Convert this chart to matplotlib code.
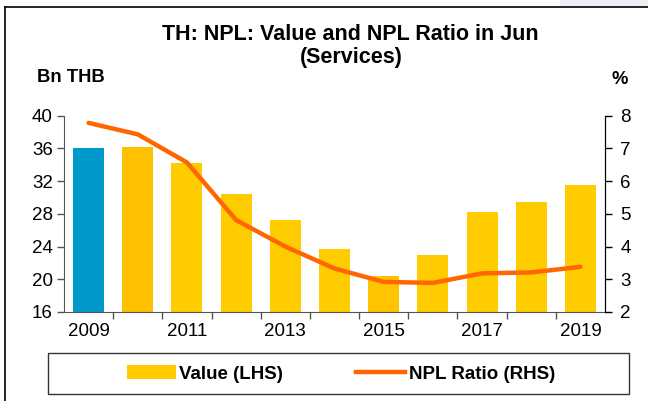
import matplotlib
matplotlib.use("Agg")
import matplotlib.pyplot as plt
from matplotlib.lines import Line2D
from matplotlib.patches import Patch, Rectangle

plt.rcParams['font.family'] = ['Liberation Sans', 'DejaVu Sans']

years = [2009, 2010, 2011, 2012, 2013, 2014, 2015, 2016, 2017, 2018, 2019]
value_bn = [36.0, 36.2, 34.2, 30.4, 27.3, 23.7, 20.4, 23.0, 28.2, 29.5, 31.5]
npl_ratio = [7.78, 7.43, 6.57, 4.81, 4.0, 3.33, 2.92, 2.89, 3.18, 3.21, 3.38]
bar_colors = ['#0099CC', '#FFC000', '#FFCC00', '#FFCC00', '#FFCC00', '#FFCC00',
              '#FFC400', '#FFCC00', '#FFCC00', '#FFCC00', '#FFCC00']
xtick_labels = ['2009', '', '2011', '', '2013', '', '2015', '', '2017', '', '2019']

W, H = 648, 401
fig = plt.figure(figsize=(W / 100, H / 100), dpi=100)

# outer frame lines (left and top)
fig.add_artist(Line2D([5 / W, 5 / W], [0, 1 - 7 / H], color='black', lw=1.2))
fig.add_artist(Line2D([5 / W, 1], [1 - 7 / H, 1 - 7 / H], color='black', lw=1.2))
fig.add_artist(Rectangle((560 / W, 1 - 6.5 / H), 88 / W, 6.5 / H, color='#EEF0F8', lw=0,
                         transform=fig.transFigure))

left, right, bottom, top = 64 / W, 605 / W, 1 - 312 / H, 1 - 115.7 / H
ax = fig.add_axes([left, bottom, right - left, top - bottom])
ax2 = ax.twinx()

x = list(range(len(years)))
ax.bar(x, [v - 16 for v in value_bn], bottom=16, width=0.63, color=bar_colors, zorder=2)
ax.set_ylim(16, 40)
ax.set_xlim(-0.5, len(years) - 0.5)
ax.set_yticks([16, 20, 24, 28, 32, 36, 40])
ax.tick_params(axis='y', direction='out', length=5, width=1, labelsize=13.5, pad=3, color='#555555')

ax.set_xticks(x)
ax.set_xticklabels(xtick_labels)
ax.set_xticks([i + 0.5 for i in range(len(years) - 1)], minor=True)
ax.tick_params(axis='x', which='major', length=0, labelsize=13.5, pad=8)
ax.tick_params(axis='x', which='minor', direction='out', length=5, width=1, color='#555555')

ax2.plot(x, npl_ratio, color='#FF6600', lw=3.2, solid_capstyle='round', zorder=3)
ax2.set_ylim(2, 8)
ax2.set_yticks([2, 3, 4, 5, 6, 7, 8])
ax2.tick_params(axis='y', direction='out', length=5, width=1, labelsize=13.5, pad=6)

for a in (ax, ax2):
    a.spines['top'].set_visible(False)
ax.spines['left'].set_color('#555555')
ax.spines['bottom'].set_color('#555555')
ax2.spines['left'].set_visible(False)
ax2.spines['bottom'].set_visible(False)
ax2.spines['right'].set_color('black')
ax.set_zorder(1)
ax2.set_zorder(2)
ax2.patch.set_visible(False)

fig.text(350 / W, 1 - 35 / H, 'TH: NPL: Value and NPL Ratio in Jun', ha='center', va='center',
         fontsize=15.5, fontweight='bold')
fig.text(351 / W, 1 - 58 / H, '(Services)', ha='center', va='center', fontsize=15.5, fontweight='bold')
fig.text(37 / W, 1 - 77 / H, 'Bn THB', ha='left', va='center', fontsize=13.2, fontweight='bold')
fig.text(611 / W, 1 - 79 / H, '%', ha='left', va='center', fontsize=13.2, fontweight='bold')

# legend frame
fig.add_artist(Rectangle((48 / W, 1 - 394 / H), (629 - 48) / W, (394 - 353) / H,
                         transform=fig.transFigure, facecolor='white', edgecolor='#333333', lw=1))
handles = [Patch(facecolor='#FFCC00', edgecolor='none'),
           Line2D([0], [0], color='#FF6600', lw=3.2)]
leg = fig.legend(handles, ['Value (LHS)', 'NPL Ratio (RHS)'], loc='center',
                 bbox_to_anchor=(341 / W, 1 - 374 / H), ncol=2,
                 prop={'weight': 'bold', 'size': 13.5}, frameon=False,
                 handlelength=2.6, handleheight=0.7,
                 columnspacing=3.9, handletextpad=0.2, borderpad=0.3)

fig.savefig('out.png', dpi=100)
